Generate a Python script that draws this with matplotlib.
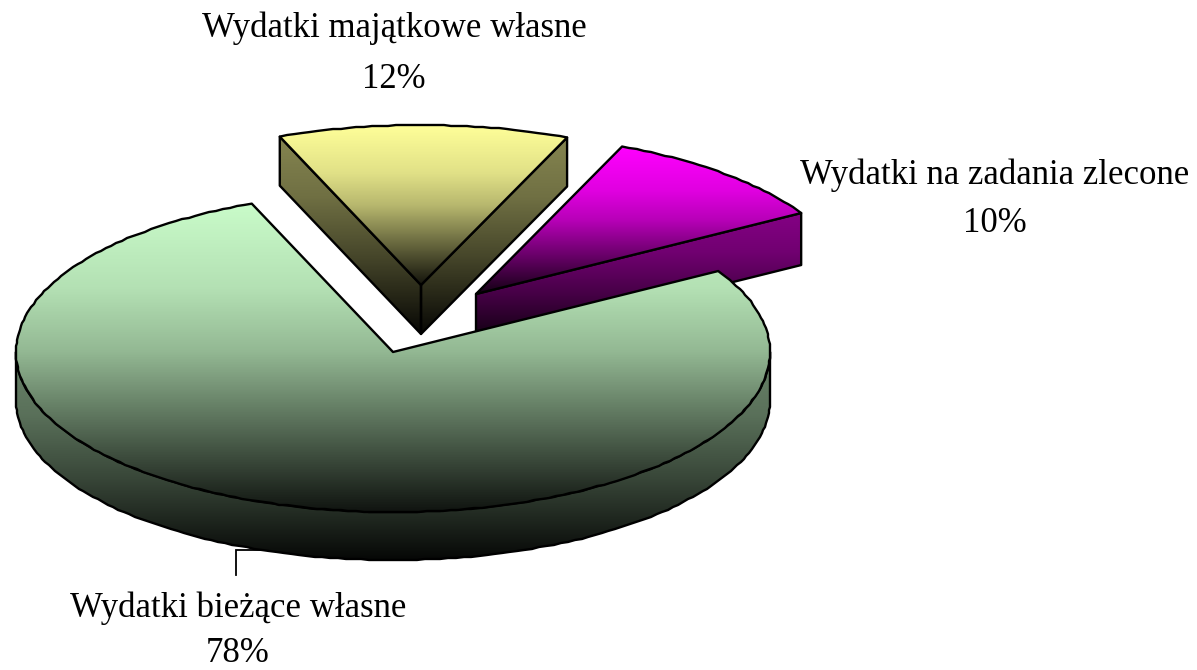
import numpy as np
import matplotlib
matplotlib.use("Agg")
import matplotlib.pyplot as plt
from matplotlib.patches import Polygon
from matplotlib.colors import LinearSegmentedColormap

# Data
categories = ["Wydatki bieżące własne", "Wydatki majątkowe własne", "Wydatki na zadania zlecone"]
values = [78, 12, 10]
colors = ["#CCFFCC", "#FFFF99", "#FF00FF"]

# Layout (pixel space)
W, H = 1197, 670
RX, RY = 377, 160
START = 112.0  # angle where the yellow slice starts; slices go on clockwise from here
PROJ_ADJUST = {0: -2.4, 1: 1.6, 2: 0.8}  # tilt of the 3-D view widens/narrows the drawn angles
centers = {0: (393, 352), 1: (421, 285), 2: (476, 294)}
depths = {0: 48, 1: 49, 2: 52}
label_pos = {0: (238, 608, 654), 1: (394, 28, 79), 2: (995, 175, 223)}
TEXT_SIZE = 25
TOP_STOPS = [(0, 1.0), (0.3, 0.88), (0.5, 0.72), (0.75, 0.40), (1, 0.08)]
SIDE_STOPS = [(0, 0.52), (0.3, 0.44), (0.6, 0.28), (1, 0.03)]

plt.rcParams["font.family"] = ["Liberation Serif", "DejaVu Serif"]
fig = plt.figure(figsize=(W / 100, H / 100), dpi=100)
ax = fig.add_axes([0, 0, 1, 1])
ax.set_xlim(0, W)
ax.set_ylim(H, 0)
ax.axis("off")


def arc(c, a0, a1, dy=0):
    n = max(2, int(abs(a1 - a0) / 1.2) + 1)
    t = np.radians(np.linspace(a0, a1, n))
    pts = np.column_stack([c[0] + RX * np.cos(t), c[1] - RY * np.sin(t) + dy])
    inner = np.round(pts[1:-1])  # the reference's edges are very slightly faceted
    return np.vstack([pts[:1], inner, pts[-1:]])


def grad_fill(pts, base, stops, y0, y1, z):
    rgb = matplotlib.colors.to_rgb(base)
    cmap = LinearSegmentedColormap.from_list(
        "g", [(p, tuple(f * v for v in rgb)) for p, f in stops], N=128)
    g = np.linspace(0, 1, 256).reshape(-1, 1)
    im = ax.imshow(g, cmap=cmap, extent=[0, W, y1, y0], aspect="auto", zorder=z,
                   vmin=0, vmax=1, interpolation="bilinear")
    poly = Polygon(pts, closed=True, transform=ax.transData, facecolor="none",
                   edgecolor="black", linewidth=1.7, joinstyle="round", zorder=z + 0.1)
    ax.add_patch(poly)
    im.set_clip_path(poly)


# Slice angles from values
spans = [v / sum(values) * 360 + PROJ_ADJUST[i] for i, v in enumerate(values)]
a_yellow0 = START
a_yellow1 = a_yellow0 - spans[1]
a_pink0 = a_yellow1
a_pink1 = a_pink0 - spans[2]
a_main0 = a_pink1
a_main1 = a_main0 - spans[0]

# Yellow slice
c, d = centers[1], depths[1]
L = arc(c, a_yellow0, a_yellow0)[0]
R = arc(c, a_yellow1, a_yellow1)[0]
sideL = [L, c, (c[0], c[1] + d), (L[0], L[1] + d)]
sideR = [c, R, (R[0], R[1] + d), (c[0], c[1] + d)]
grad_fill(sideL, colors[1], SIDE_STOPS, L[1], c[1] + d, 2)
grad_fill(sideR, colors[1], SIDE_STOPS, R[1], c[1] + d, 2)
top = np.vstack([[c], arc(c, a_yellow0, a_yellow1)])
grad_fill(top, colors[1], TOP_STOPS, c[1] - RY, c[1], 3)

# Pink slice
c, d = centers[2], depths[2]
R = arc(c, a_pink1, a_pink1)[0]
side = [c, R, (R[0], R[1] + d), (c[0], c[1] + d)]
grad_fill(side, colors[2], SIDE_STOPS, R[1], c[1] + d, 4)
top = np.vstack([[c], arc(c, a_pink0, a_pink1)])
grad_fill(top, colors[2], TOP_STOPS, c[1] - RY * 0.92, c[1], 5)

# Main slice
c, d = centers[0], depths[0]
side = np.vstack([arc(c, -180, 0), arc(c, 0, -180, dy=d)])
grad_fill(side, colors[0], SIDE_STOPS, c[1], c[1] + RY + d, 6)
top = np.vstack([[c], arc(c, a_main0, a_main1)])
grad_fill(top, colors[0], TOP_STOPS, c[1] - RY, c[1] + RY, 7)

# Leader line
ax.plot([262, 236, 236], [550, 550, 575], color="black", lw=1.3, zorder=1,
        solid_joinstyle="miter")

# Labels
for i, name in enumerate(categories):
    x, y1, y2 = label_pos[i]
    ax.text(x, y1, name, ha="center", va="center", fontsize=TEXT_SIZE, color="black", zorder=10)
    ax.text(x, y2, f"{values[i]}%", ha="center", va="center", fontsize=TEXT_SIZE, color="black", zorder=10)

ax.set_xlim(0, W)
ax.set_ylim(H, 0)
fig.savefig("out.png", dpi=100, facecolor="white")
